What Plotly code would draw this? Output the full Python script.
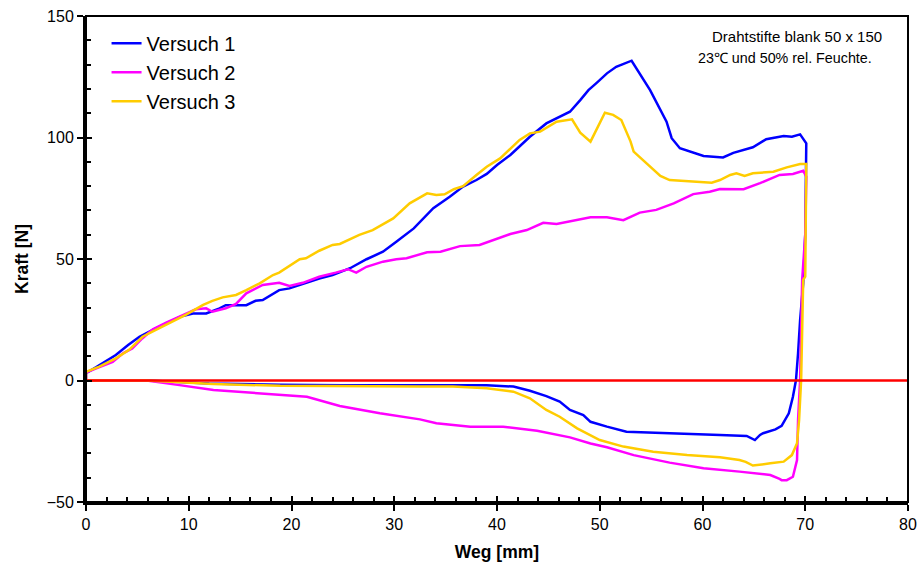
import plotly.graph_objects as go

# Versuch 1: loading path up to ~70 mm, then unloading back to the origin
v1_weg = [0, 0, 1, 2.9, 4.1, 5.2, 6.5, 8.1, 9.2, 10.4, 11.7, 13, 13.6, 15.6, 16.5, 17.2, 18.8, 19.8,
          20.8, 22.7, 24, 25.7, 27.3, 28.9, 30.2, 31.9, 33.8, 35.4, 36.7, 38, 39, 40, 41.3, 43.2, 44.8,
          46.1, 47.1, 48.1, 48.9, 49.7, 50.7, 51.6, 53.1, 54.9, 56.5, 57, 57.8, 60.1, 62, 63, 64.9,
          66.2, 67.9, 68.7, 69.5, 70.1,
          70, 69.8, 69.5, 69.3, 69.1, 68.8, 68.4, 67.7, 67.1, 65.9, 65.6, 65.1, 64.3, 61.7, 58.5, 55.2,
          52.6, 50.7, 49.1, 48.4, 47.1, 46.1, 44.8, 43.2, 41.6, 39, 32.5, 25, 18.9, 12, 8, 5.9, 0]
v1_kraft = [0, 3, 5.5, 10.5, 14.6, 18, 20.8, 24.2, 26.3, 27.6, 27.6, 29.7, 31, 31, 32.8, 33.1, 37.2, 37.9,
            39.3, 42, 43.4, 46.2, 49.9, 53, 57.1, 62.6, 70.9, 75.6, 79.8, 82.5, 85, 88.7, 92.8, 100.3, 105.8,
            108.6, 110.6, 115.4, 119.5, 122.5, 126.4, 129.1, 131.6, 119.5, 106.5, 99.7, 95.6, 92.4, 91.8, 93.7, 96,
            99.3, 100.6, 100.3, 101.3, 97.6,
            60, 40, 24.9, 11.2, 0.2, -6.7, -13.5, -18.7, -20.1, -21.7, -22.4, -24.5, -22.8, -22.4, -22, -21.7,
            -21.1, -19, -17, -14.2, -12.1, -8.7, -6.4, -4.2, -2.5, -2, -2.1, -2, -1.8, -1.2, -0.4, 0, 0]

# Versuch 2
v2_weg = [0, 0, 1, 2.6, 3.6, 4.5, 5.5, 6.5, 7.8, 9.1, 10.7, 11.7, 12.3, 13.6, 14.6, 15.6, 17.2, 18.8,
          19.8, 21.1, 22.7, 24.3, 25.5, 26.3, 27.3, 28.9, 30.2, 31.2, 33.2, 34.5, 36.4, 38.3, 39.6, 41.3,
          42.9, 44.5, 45.8, 47.1, 49.1, 50.7, 52.3, 53.9, 55.5, 57.2, 59.1, 60.7, 61.7, 64, 65.6, 67.5,
          68.8, 69.8, 70.1,
          70, 69.8, 69.7, 69.5, 69.3, 69.2, 68.8, 68.2, 67.7, 67.5, 66.6, 63.6, 60.1, 56.8, 53.3, 50.7,
          49.1, 47.1, 43.9, 40.6, 37.4, 34.1, 32.5, 28.6, 24.7, 21.5, 15.6, 12.4, 9.1, 5.9, 0]
v2_kraft = [0, 3.2, 5, 7.7, 11.2, 13.2, 17.4, 21.1, 23.8, 26.3, 29.3, 29.7, 28.3, 29.7, 31.5, 35.9, 39.3, 40.2,
            38.9, 40.2, 42.7, 44.4, 45.8, 44.4, 46.8, 48.9, 49.9, 50.3, 52.8, 53, 55.3, 55.8, 57.8, 60.3,
            61.9, 64.9, 64.4, 65.4, 67.2, 67.2, 66, 69.1, 70.2, 72.9, 76.7, 77.7, 78.8, 78.7, 81.2, 84.6,
            85, 86.3, 83.9,
            60, 44.1, 41.4, 0.2, -16.3, -32.7, -39.6, -41, -41, -40.5, -38.9, -37.5, -36.1, -33.8, -30.7, -27.5,
            -25.9, -23.4, -20.7, -19, -19, -17.6, -16, -13.5, -10.5, -6.7, -5, -3.9, -1.9, 0, 0]

# Versuch 3
v3_weg = [0, 0, 1.3, 2.9, 4.2, 5.5, 6.8, 8.4, 9.7, 11.4, 12.3, 13.3, 14.6, 15.6, 16.9, 18.2, 18.8, 20.8,
          21.4, 22.7, 24, 24.7, 26.6, 27.9, 29.9, 31.5, 33.2, 34.1, 34.9, 35.8, 36.7, 38, 39, 40.3, 42.2,
          43.2, 44.2, 45.8, 47.3, 48.1, 49.1, 50.5, 51.3, 52.1, 53, 53.3, 54.6, 55.9, 56.8, 58.1, 60.1,
          60.9, 61.7, 62.7, 63.3, 64.1, 64.9, 66.9, 68.2, 69.5, 70.1,
          70, 70, 69.8, 69.7, 69.6, 69.4, 69.2, 68.7, 67.9, 66.6, 65.4, 64.9, 64.2, 63.6, 61.7, 58.5, 55.2,
          52.3, 50, 47.8, 46.1, 44.8, 43.2, 41.6, 39, 35.7, 32.5, 25, 18.9, 12.4, 8, 5.9, 0]
v3_kraft = [0, 3.6, 5.7, 9.1, 12.6, 18, 20.8, 24.2, 27, 31.1, 32.8, 34.2, 35.2, 37.2, 40, 43.4, 44.4, 49.9,
            50.3, 53.4, 55.8, 56.2, 59.9, 61.9, 66.7, 72.9, 77, 76.3, 76.6, 78.7, 80, 84.6, 88, 91.4, 99,
            101.7, 102.4, 106.5, 107.5, 102, 98.3, 110.2, 109.3, 107.2, 98.3, 94.2, 89.4, 84.2, 82.5, 82.2, 81.8,
            81.4, 82.5, 84.6, 85.3, 84.2, 85.3, 85.9, 87.7, 89.1, 89.1,
            60, 42.7, 41.4, 24.9, 0.2, -16.3, -25.8, -30.7, -33.4, -34.1, -34.9, -35, -33.5, -32.7, -31.6, -30.7, -29.3,
            -27.2, -24.5, -19.7, -14.9, -12.1, -7.3, -4.6, -3.2, -2.5, -2.5, -2.4, -2.2, -1.4, -0.4, 0, 0]

# zero reference line
null_weg = [0, 80]
null_kraft = [0, 0]

series = [
    ("Versuch 1", v1_weg, v1_kraft, "#0000FF"),
    ("Versuch 2", v2_weg, v2_kraft, "#FF00FF"),
    ("Versuch 3", v3_weg, v3_kraft, "#FFCC00"),
]

x_ticks = list(range(0, 81, 10))
y_ticks = [-50, 0, 50, 100, 150]

FONT = "Arial, Liberation Sans, sans-serif"

fig = go.Figure()
for name, xs, ys, col in series:
    fig.add_trace(go.Scatter(x=xs, y=ys, mode="lines", name=name,
                             line=dict(color=col, width=2.5)))
fig.add_trace(go.Scatter(x=null_weg, y=null_kraft, mode="lines", showlegend=False,
                         line=dict(color="#FF0000", width=2.5), hoverinfo="skip"))
# empty trace so the overlay axes (inner half of the major ticks) are drawn
fig.add_trace(go.Scatter(x=[], y=[], xaxis="x2", yaxis="y2", showlegend=False))

axis_common = dict(showgrid=False, zeroline=False, color="black", automargin=False,
                   tickfont=dict(family=FONT, size=16, color="black"))

fig.update_layout(
    width=920, height=571,
    margin=dict(l=86, r=12, t=16, b=69),
    paper_bgcolor="white", plot_bgcolor="white",
    font=dict(family=FONT, color="black"),
    showlegend=True,
    legend=dict(x=0.025, y=0.984, xanchor="left", yanchor="top",
                bgcolor="rgba(0,0,0,0)", font=dict(family=FONT, size=20, color="black"),
                itemwidth=30, tracegroupgap=0),
    xaxis=dict(range=[0, 80], tickvals=x_ticks, ticks="outside", ticklen=6, tickwidth=2,
               tickcolor="black", showline=True, linewidth=3, linecolor="black",
               minor=dict(dtick=2, ticks="inside", ticklen=5, tickwidth=2, tickcolor="black"),
               title=dict(text="<b>Weg [mm]</b>", font=dict(family=FONT, size=17.5), standoff=14),
               **axis_common),
    yaxis=dict(range=[-50, 150], tickvals=y_ticks, ticks="outside", ticklen=6, tickwidth=2,
               tickcolor="black", showline=True, linewidth=3, linecolor="black",
               minor=dict(dtick=10, ticks="inside", ticklen=5, tickwidth=2, tickcolor="black"),
               title=dict(text="<b>Kraft [N]</b>", font=dict(family=FONT, size=17.5), standoff=14),
               **axis_common),
    xaxis2=dict(range=[0, 80], overlaying="x", anchor="y", side="bottom", tickvals=x_ticks,
                ticks="inside", ticklen=6, tickwidth=2, tickcolor="black", automargin=False,
                showticklabels=False, showline=False, showgrid=False, zeroline=False),
    yaxis2=dict(range=[-50, 150], overlaying="y", anchor="x", side="left", tickvals=y_ticks,
                ticks="inside", ticklen=6, tickwidth=2, tickcolor="black", automargin=False,
                showticklabels=False, showline=False, showgrid=False, zeroline=False),
    shapes=[dict(type="rect", xref="paper", yref="paper", x0=0, x1=1, y0=0, y1=1,
                 line=dict(color="black", width=2), layer="above")],
    annotations=[
        dict(text="Drahtstifte blank 50 x 150", xref="paper", yref="paper", x=0.759, y=0.957,
             xanchor="left", yanchor="middle", showarrow=False,
             font=dict(family=FONT, size=15, color="black")),
        dict(text="23\u2103 und 50% rel. Feuchte.", xref="paper", yref="paper", x=0.742, y=0.913,
             xanchor="left", yanchor="middle", showarrow=False,
             font=dict(family=FONT, size=14.3, color="black")),
    ],
)

fig.write_html("out.html")
